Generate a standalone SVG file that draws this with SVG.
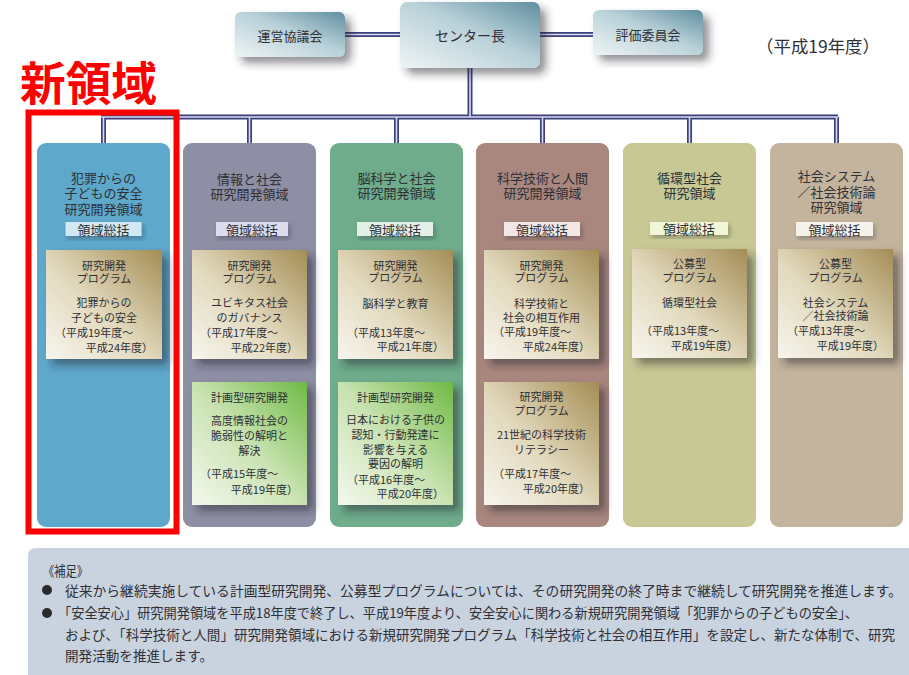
<svg xmlns="http://www.w3.org/2000/svg" width="909" height="675" viewBox="0 0 909 675">
<defs>
<style>
text{font-family:"Noto Sans CJK JP","Noto Sans",sans-serif;fill:#2f2f35;dominant-baseline:central}
.t{font-size:13px;text-anchor:middle}
.p{font-size:11px;text-anchor:middle}
.s{text-anchor:start}
.e{text-anchor:end}
.lead{font-size:13px;text-anchor:middle}
.note{font-size:13.5px}
.out{fill:none;stroke:#3c3f7c;stroke-width:5}
.inn{fill:none;stroke:#d9d9f2;stroke-width:1.6}
</style>
<linearGradient id="gTop" x1="0" y1="1" x2="1" y2="0">
<stop offset="0" stop-color="#eef4f5"/><stop offset="0.55" stop-color="#b8d0d8"/><stop offset="1" stop-color="#5f8ea0"/>
</linearGradient>
<linearGradient id="gGold" x1="0" y1="1" x2="1" y2="0">
<stop offset="0" stop-color="#f7f5ee"/><stop offset="0.45" stop-color="#e2d9bd"/><stop offset="1" stop-color="#a48d55"/>
</linearGradient>
<linearGradient id="gGreen" x1="0" y1="1" x2="1" y2="0">
<stop offset="0" stop-color="#f4f8ee"/><stop offset="0.5" stop-color="#c8e2b0"/><stop offset="1" stop-color="#6fba45"/>
</linearGradient>
<filter id="sh" x="-20%" y="-20%" width="150%" height="150%">
<feDropShadow dx="6" dy="6" stdDeviation="4" flood-color="#1e1e28" flood-opacity="0.5"/>
</filter>
<filter id="shs" x="-20%" y="-20%" width="150%" height="150%">
<feDropShadow dx="2" dy="3" stdDeviation="2" flood-color="#1e1e28" flood-opacity="0.3"/>
</filter>
</defs>
<rect width="909" height="675" fill="#ffffff"/>

<g id="connectors">
<path class="out" d="M345 34.5H400M540 34.5H593M470 68V117M101 117H838M103.5 117V143M249.5 117V143M396.5 117V143M542.5 117V143M689.5 117V143M836.5 117V143"/>
<path class="inn" d="M345 34.5H400M540 34.5H593M470 68V117M101 117H838M103.5 117V143M249.5 117V143M396.5 117V143M542.5 117V143M689.5 117V143M836.5 117V143"/>
</g>

<g id="unei">
<rect x="235" y="12" width="110" height="45" rx="6" fill="url(#gTop)" filter="url(#sh)"/>
<text x="290" y="35" class="t">運営協議会</text>
</g>
<g id="center">
<rect x="400" y="2" width="140" height="66" rx="7" fill="url(#gTop)" filter="url(#sh)"/>
<text x="470" y="35" class="t" style="font-size:14px">センター長</text>
</g>
<g id="hyouka">
<rect x="593" y="10" width="110" height="45" rx="6" fill="url(#gTop)" filter="url(#sh)"/>
<text x="648" y="34" class="t">評価委員会</text>
</g>
<text id="year" x="756" y="45" style="font-size:17px" textLength="124" lengthAdjust="spacingAndGlyphs">（平成19年度）</text>

<text id="shinryoiki" x="20" y="80" style="font-size:46px;font-weight:bold;fill:#ff0000" textLength="137" lengthAdjust="spacingAndGlyphs">新領域</text>

<g id="col1">
<rect x="37" y="143" width="133" height="384" rx="9" fill="#5ea8cc"/>
<text class="t"><tspan x="103.5" y="177">犯罪からの</tspan><tspan x="103.5" y="192">子どもの安全</tspan><tspan x="103.5" y="208">研究開発領域</tspan></text>
<rect x="65.5" y="222" width="76" height="14" fill="#d2e8f2" filter="url(#shs)"/>
<text x="103.5" y="229" class="lead">領域総括</text>
<rect x="46" y="250" width="116" height="109" fill="url(#gGold)" filter="url(#sh)"/>
<text class="p"><tspan x="104" y="265">研究開発</tspan><tspan x="104" y="278">プログラム</tspan><tspan x="104" y="302">犯罪からの</tspan><tspan x="104" y="317">子どもの安全</tspan><tspan class="s" x="55" y="332">（平成19年度～</tspan><tspan class="e" x="153" y="347">平成24年度）</tspan></text>
</g>

<g id="col2">
<rect x="183" y="143" width="133" height="384" rx="9" fill="#8e8ea5"/>
<text class="t"><tspan x="249.5" y="178">情報と社会</tspan><tspan x="249.5" y="193">研究開発領域</tspan></text>
<rect x="216" y="222" width="72" height="14" fill="#dcdcee" filter="url(#shs)"/>
<text x="252" y="229" class="lead">領域総括</text>
<rect x="192" y="250" width="115" height="109" fill="url(#gGold)" filter="url(#sh)"/>
<text class="p"><tspan x="249.5" y="265">研究開発</tspan><tspan x="249.5" y="278">プログラム</tspan><tspan x="249.5" y="302">ユビキタス社会</tspan><tspan x="249.5" y="317">のガバナンス</tspan><tspan class="s" x="200" y="332">（平成17年度～</tspan><tspan class="e" x="298" y="347">平成22年度）</tspan></text>
<rect x="192" y="382" width="115" height="123" fill="url(#gGreen)" filter="url(#sh)"/>
<text class="p"><tspan x="249.5" y="397">計画型研究開発</tspan><tspan x="249.5" y="420">高度情報社会の</tspan><tspan x="249.5" y="435">脆弱性の解明と</tspan><tspan x="249.5" y="450">解決</tspan><tspan class="s" x="200" y="473">（平成15年度～</tspan><tspan class="e" x="298" y="489">平成19年度）</tspan></text>
</g>

<g id="col3">
<rect x="330" y="143" width="133" height="384" rx="9" fill="#6eac8c"/>
<text class="t"><tspan x="396.5" y="177">脳科学と社会</tspan><tspan x="396.5" y="192">研究開発領域</tspan></text>
<rect x="357" y="222" width="76" height="14" fill="#e2f0e8" filter="url(#shs)"/>
<text x="395" y="229" class="lead">領域総括</text>
<rect x="338" y="250" width="115" height="109" fill="url(#gGold)" filter="url(#sh)"/>
<text class="p"><tspan x="395.5" y="265">研究開発</tspan><tspan x="395.5" y="277">プログラム</tspan><tspan x="395.5" y="303">脳科学と教育</tspan><tspan class="s" x="347" y="332">（平成13年度～</tspan><tspan class="e" x="444" y="346">平成21年度）</tspan></text>
<rect x="338" y="382" width="115" height="123" fill="url(#gGreen)" filter="url(#sh)"/>
<text class="p"><tspan x="395.5" y="397">計画型研究開発</tspan><tspan x="395.5" y="419">日本における子供の</tspan><tspan x="395.5" y="434">認知・行動発達に</tspan><tspan x="395.5" y="449">影響を与える</tspan><tspan x="395.5" y="463">要因の解明</tspan><tspan class="s" x="347" y="479">（平成16年度～</tspan><tspan class="e" x="444" y="493">平成20年度）</tspan></text>
</g>

<g id="col4">
<rect x="476" y="143" width="133" height="384" rx="9" fill="#a9877f"/>
<text class="t"><tspan x="542.5" y="177">科学技術と人間</tspan><tspan x="542.5" y="192">研究開発領域</tspan></text>
<rect x="504" y="222" width="76" height="14" fill="#f2e6e6" filter="url(#shs)"/>
<text x="542" y="229" class="lead">領域総括</text>
<rect x="484" y="250" width="115" height="109" fill="url(#gGold)" filter="url(#sh)"/>
<text class="p"><tspan x="541.5" y="265">研究開発</tspan><tspan x="541.5" y="277">プログラム</tspan><tspan x="541.5" y="303">科学技術と</tspan><tspan x="541.5" y="317">社会の相互作用</tspan><tspan class="s" x="493" y="331">（平成19年度～</tspan><tspan class="e" x="590" y="346">平成24年度）</tspan></text>
<rect x="484" y="382" width="115" height="123" fill="url(#gGold)" filter="url(#sh)"/>
<text class="p"><tspan x="541.5" y="396">研究開発</tspan><tspan x="541.5" y="410">プログラム</tspan><tspan x="541.5" y="434">21世紀の科学技術</tspan><tspan x="541.5" y="449">リテラシー</tspan><tspan class="s" x="493" y="473">（平成17年度～</tspan><tspan class="e" x="590" y="488">平成20年度）</tspan></text>
</g>

<g id="col5">
<rect x="623" y="143" width="133" height="384" rx="9" fill="#c8c894"/>
<text class="t"><tspan x="689.5" y="177">循環型社会</tspan><tspan x="689.5" y="192">研究領域</tspan></text>
<rect x="650" y="222" width="78" height="13" fill="#f0f6d6" filter="url(#shs)"/>
<text x="689" y="228.5" class="lead">領域総括</text>
<rect x="632" y="249" width="115" height="109" fill="url(#gGold)" filter="url(#sh)"/>
<text class="p"><tspan x="689.5" y="263">公募型</tspan><tspan x="689.5" y="277">プログラム</tspan><tspan x="689.5" y="302">循環型社会</tspan><tspan class="s" x="641" y="330">（平成13年度～</tspan><tspan class="e" x="738" y="345">平成19年度）</tspan></text>
</g>

<g id="col6">
<rect x="770" y="143" width="133" height="384" rx="9" fill="#c4b49e"/>
<text class="t"><tspan x="836.5" y="175">社会システム</tspan><tspan x="836.5" y="191">／社会技術論</tspan><tspan x="836.5" y="206">研究領域</tspan></text>
<rect x="796" y="222" width="77" height="14" fill="#f6f2ec" filter="url(#shs)"/>
<text x="834.5" y="229" class="lead">領域総括</text>
<rect x="778" y="249" width="115" height="109" fill="url(#gGold)" filter="url(#sh)"/>
<text class="p"><tspan x="835.5" y="263">公募型</tspan><tspan x="835.5" y="277">プログラム</tspan><tspan x="835.5" y="302">社会システム</tspan><tspan x="835.5" y="315">／社会技術論</tspan><tspan class="s" x="787" y="330">（平成13年度～</tspan><tspan class="e" x="884" y="345">平成19年度）</tspan></text>
</g>

<rect id="redbox" x="28.5" y="112.5" width="148" height="419" fill="none" stroke="#ff0000" stroke-width="6"/>

<g id="notes">
<path d="M28 675V556Q28 548 36 548H909V675Z" fill="#c9d3df"/>
<text x="43" y="570" class="note" textLength="45" lengthAdjust="spacingAndGlyphs">《補足》</text>
<circle cx="47" cy="590" r="5" fill="#2a2a2a"/>
<text x="65" y="590" class="note" textLength="837" lengthAdjust="spacingAndGlyphs">従来から継続実施している計画型研究開発、公募型プログラムについては、その研究開発の終了時まで継続して研究開発を推進します。</text>
<circle cx="47" cy="613" r="5" fill="#2a2a2a"/>
<text x="58" y="612" class="note" textLength="800" lengthAdjust="spacingAndGlyphs">「安全安心」研究開発領域を平成18年度で終了し、平成19年度より、安全安心に関わる新規研究開発領域「犯罪からの子どもの安全」、</text>
<text x="65" y="634" class="note" textLength="830" lengthAdjust="spacingAndGlyphs">および、「科学技術と人間」研究開発領域における新規研究開発プログラム「科学技術と社会の相互作用」を設定し、新たな体制で、研究</text>
<text x="65" y="655" class="note" textLength="148" lengthAdjust="spacingAndGlyphs">開発活動を推進します。</text>
</g>
</svg>
